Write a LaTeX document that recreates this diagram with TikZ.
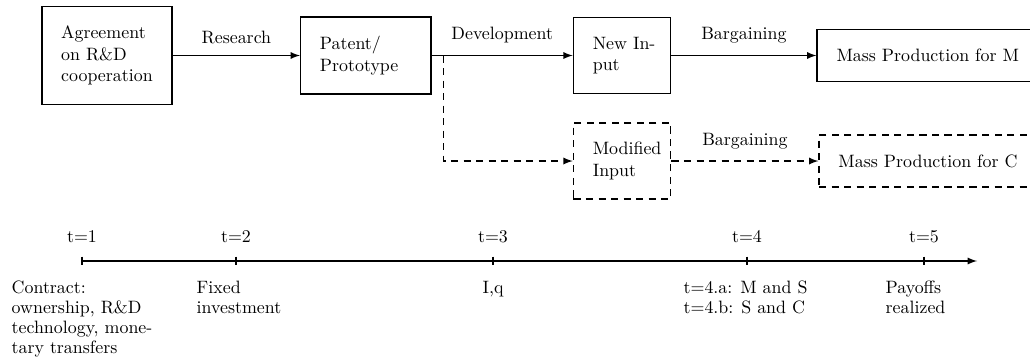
\documentclass[tikz,border=0pt]{standalone}
\usetikzlibrary{positioning}
\begin{document}
\begin{tikzpicture}[thick,
  stage/.style = {shape=rectangle, draw, align=left, text width=1.8cm, inner sep=0.38cm},
  narrow/.style = {stage, text width=1.15cm},
  wide/.style = {stage, text width=3.6cm},
  alt/.style = {dash pattern=on 4pt off 3pt},
  flow/.style = {draw, -latex},
  tag/.style = {midway, above=3pt},
  event/.style = {anchor=north west, align=left, font=\fontsize{10}{11.2}\selectfont}]
\useasboundingbox (0,0) rectangle (20.225,-7.069);

% Define the stages of the cooperation
\node[stage] (agree) at (2.101,-1.090) {Agreement\\ on R\&D\\ cooperation};
\node[stage, right=2.494cm of agree] (patent) {Patent/\\ Prototype};
\node[narrow, right=2.769cm of patent] (newin) {\mbox{New In-}\\put};
\node[wide, right=2.847cm of newin] (massM) {Mass Production for M};
\node[narrow, alt, below=0.55cm of newin] (modin) {Modified\\ Input};
\node[wide, alt, right=2.886cm of modin] (massC) {Mass Production for C};

\draw[flow] (agree) -- node[tag] {Research} (patent);
\draw[flow] (patent) -- node[tag] {Development} (newin);
\draw[flow] (newin) -- node[tag] {Bargaining} (massM);
\coordinate (split) at ([xshift=0.236cm]patent.east);
\draw[flow, alt] (split) |- (modin);
\draw[flow, alt] (modin) -- node[tag] {Bargaining} (massC);

% Define the time line
\coordinate (t1) at (1.610,-5.125);
\coordinate (t2) at (4.634,-5.125);
\coordinate (t3) at (9.681,-5.125);
\coordinate (t4) at (14.668,-5.125);
\coordinate (t5) at (18.144,-5.125);
\coordinate (tend) at (19.185,-5.125);
\draw[flow] (t1) -- (tend);
\foreach \i in {1,...,5} {
  \draw ([yshift=2.5pt]t\i) -- ([yshift=-2.5pt]t\i);
  \node[above=0.22cm of t\i] (date\i) {t=\i};
}
\node[event] (what1) at ([xshift=-1.512cm, yshift=-0.26cm]t1) {Contract:\\ ownership, R\&D\\ technology, mone-\\tary transfers};
\node[event] (what2) at ([xshift=-0.903cm, yshift=-0.26cm]t2) {Fixed\\ investment};
\node[event, anchor=north] (what3) at ([yshift=-0.26cm]t3) {I,q};
\node[event] (what4) at ([xshift=-1.375cm, yshift=-0.26cm]t4) {t=4.a: M and S\\ t=4.b: S and C};
\node[event] (what5) at ([xshift=-0.884cm, yshift=-0.26cm]t5) {Payoffs\\ realized};
\end{tikzpicture}
\end{document}
